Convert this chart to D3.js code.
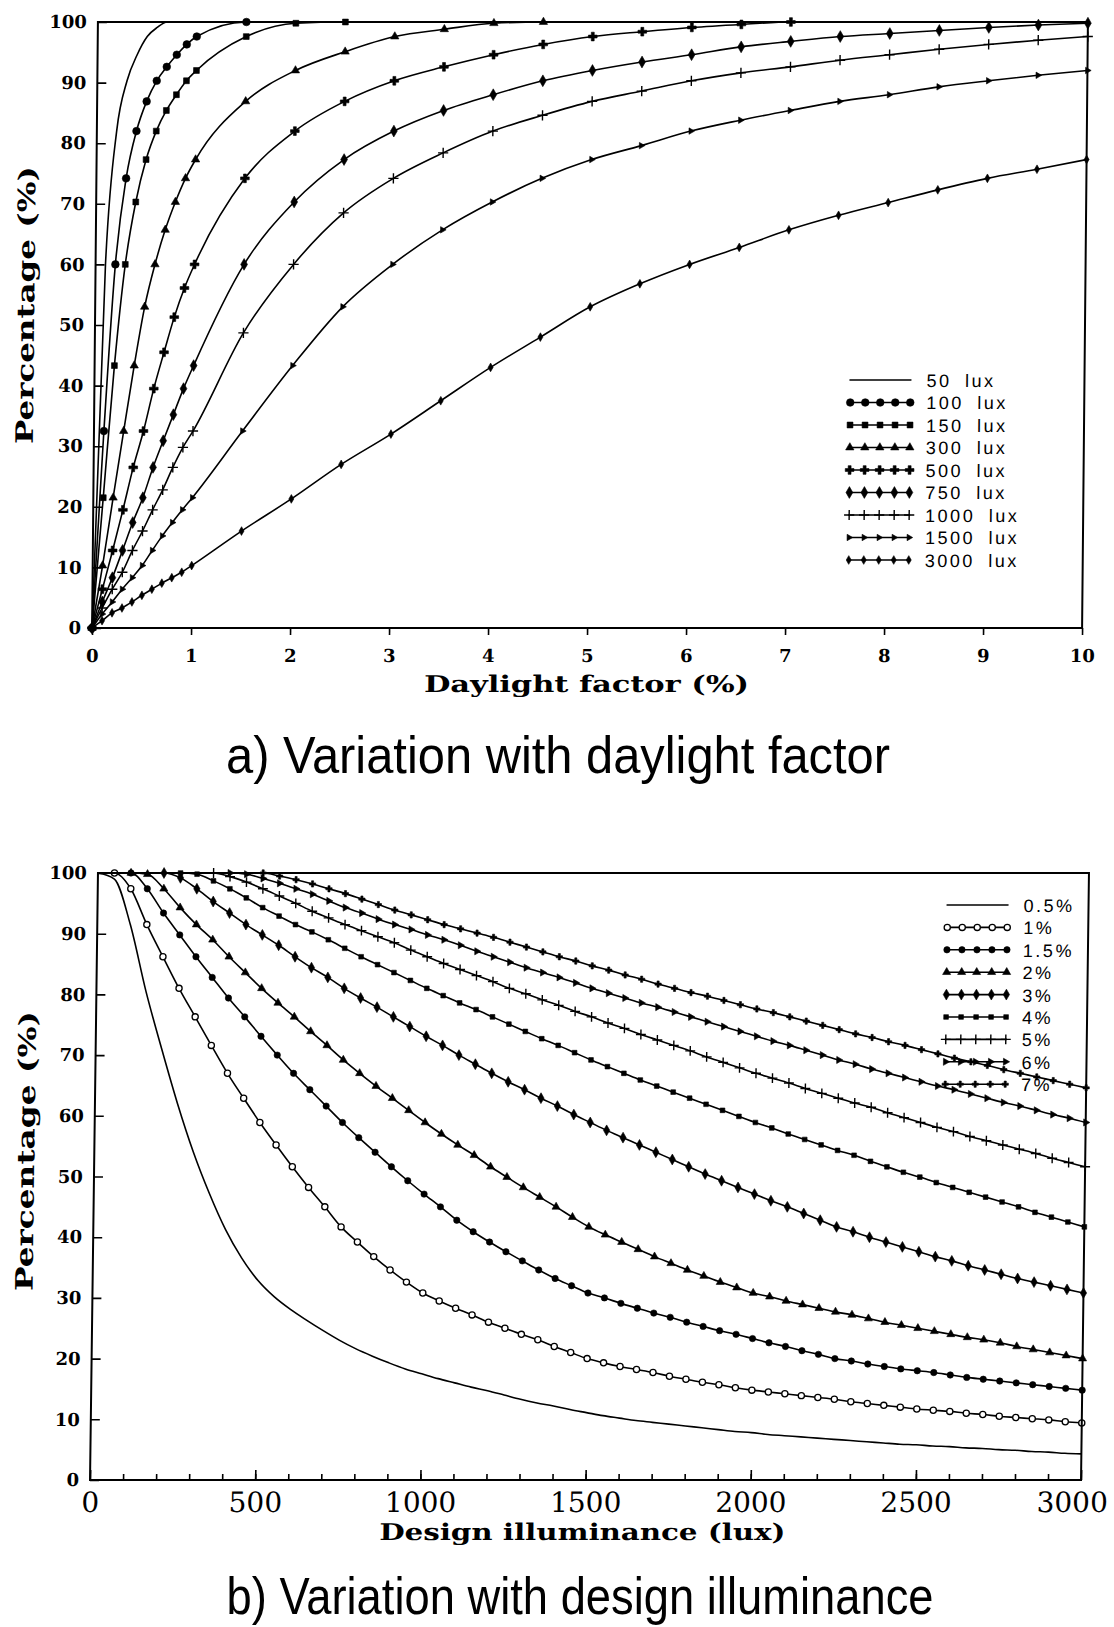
<!DOCTYPE html>
<html>
<head>
<meta charset="utf-8">
<script src="https://cdn.jsdelivr.net/npm/d3@7"></script>
<style>
  body { margin: 0; background: #fff; }
  svg { display: block; }
  text { fill: #000; }
  .tick line { stroke: #000; stroke-width: 1.6; }
</style>
</head>
<body>
<svg id="fig" width="1114" height="1627"></svg>
<script>
// ---- (a) percentage vs daylight factor, one curve per design illuminance
var dfValues = [0, 0.1, 0.2, 0.3, 0.4, 0.5, 0.6, 0.7, 0.8, 0.9, 1, 1.5, 2, 2.5, 3, 3.5, 4, 4.5, 5, 5.5, 6, 6.5, 7, 7.5, 8, 8.5, 9, 9.5, 10];
var lux50   = [0, 60, 82, 90.3, 94.6, 97.6, 99.1, 100, 100, 100, 100, 100, 100, 100, 100, 100, 100, 100, 100, 100, 100, 100, 100, 100, 100, 100, 100, 100, 100];
var lux100  = [0, 32.5, 60, 74.2, 82, 86.9, 90.3, 92.6, 94.6, 96.3, 97.6, 100, 100, 100, 100, 100, 100, 100, 100, 100, 100, 100, 100, 100, 100, 100, 100, 100, 100];
var lux150  = [0, 21.5, 43.3, 60, 70.3, 77.3, 82, 85.4, 88, 90.3, 92, 97.6, 99.8, 100, 100, 100, 100, 100, 100, 100, 100, 100, 100, 100, 100, 100, 100, 100, 100];
var lux300  = [0, 10.3, 21.5, 32.5, 43.3, 53, 60, 65.7, 70.3, 74.2, 77.3, 86.9, 92, 95.1, 97.6, 98.8, 99.8, 100, 100, 100, 100, 100, 100, 100, 100, 100, 100, 100, 100];
var lux500  = [0, 6.4, 12.8, 19.5, 26.5, 32.5, 39.5, 45.5, 51.3, 56.1, 60, 74.2, 82, 86.9, 90.3, 92.6, 94.6, 96.3, 97.6, 98.4, 99.1, 99.6, 100, 100, 100, 100, 100, 100, 100];
var lux750  = [0, 4.3, 8.3, 12.8, 17.4, 21.5, 26.5, 30.9, 35.2, 39.5, 43.3, 60, 70.3, 77.3, 82, 85.4, 88, 90.3, 92, 93.4, 94.6, 95.9, 96.8, 97.6, 98.1, 98.6, 99.1, 99.5, 99.8];
var lux1000 = [0, 3.3, 6.4, 9.2, 12.8, 16, 19.5, 22.8, 26.5, 29.8, 32.5, 48.7, 60, 68.5, 74.2, 78.4, 82, 84.6, 86.9, 88.6, 90.3, 91.6, 92.6, 93.7, 94.6, 95.5, 96.3, 97, 97.6];
var lux1500 = [0, 2.3, 4.3, 6.4, 8.3, 10.3, 12.8, 15.2, 17.4, 19.5, 21.5, 32.5, 43.3, 53, 60, 65.7, 70.3, 74.2, 77.3, 79.6, 82, 83.8, 85.4, 86.9, 88, 89.3, 90.3, 91.2, 92];
var lux3000 = [0, 1.2, 2.5, 3.3, 4.3, 5.4, 6.4, 7.4, 8.3, 9.2, 10.3, 16, 21.3, 27, 32, 37.5, 43, 48, 53, 56.8, 60, 62.8, 65.7, 68.1, 70.2, 72.3, 74.2, 75.7, 77.3];
var luxNames = ["50  lux", "100  lux", "150  lux", "300  lux", "500  lux", "750  lux", "1000  lux", "1500  lux", "3000  lux"];
var dfTicks = [0, 1, 2, 3, 4, 5, 6, 7, 8, 9, 10];

// ---- (b) percentage vs design illuminance, one curve per daylight factor
var illum = [0, 50, 100, 150, 200, 250, 300, 350, 400, 450, 500, 550, 600, 650, 700, 750, 800, 850, 900, 950, 1000,
  1050, 1100, 1150, 1200, 1250, 1300, 1350, 1400, 1450, 1500, 1550, 1600, 1650, 1700, 1750, 1800, 1850, 1900, 1950, 2000,
  2050, 2100, 2150, 2200, 2250, 2300, 2350, 2400, 2450, 2500, 2550, 2600, 2650, 2700, 2750, 2800, 2850, 2900, 2950, 3000];
var pct05 = [100, 99, 91.5, 80.5, 71, 62, 54, 47.2, 41.3, 36.6, 32.9,
  30.2, 28.1, 26.3, 24.6, 23, 21.6, 20.4, 19.3, 18.3, 17.5, 16.7, 16, 15.3, 14.7, 14, 13.3, 12.7, 12.2, 11.6, 11.1,
  10.6, 10.2, 9.8, 9.5, 9.2, 8.9, 8.6, 8.3, 8, 7.8, 7.5, 7.3, 7.1, 6.9, 6.7, 6.5, 6.3, 6.1, 5.9, 5.8,
  5.6, 5.5, 5.3, 5.2, 5, 4.9, 4.7, 4.6, 4.4, 4.3];
var pct1 = [100, 100, 97.4, 91.5, 86.2, 81, 76.3, 71.6, 67, 62.9, 58.9,
  55.2, 51.6, 48.2, 45, 41.7, 39.2, 36.8, 34.6, 32.6, 30.8, 29.5, 28.3, 27.2, 26, 25, 24, 23.1, 22, 21, 20,
  19.3, 18.7, 18.2, 17.7, 17.1, 16.6, 16.1, 15.7, 15.2, 14.8, 14.5, 14.2, 13.9, 13.6, 13.3, 12.9, 12.6, 12.3, 12, 11.7,
  11.5, 11.3, 11, 10.8, 10.5, 10.3, 10.1, 9.9, 9.6, 9.4];
var pct15 = [100, 100, 100, 97.4, 93.4, 89.8, 86.2, 82.8, 79.4, 76.3, 73.1,
  70, 67, 64.3, 61.6, 58.9, 56.4, 54, 51.6, 49.3, 47.1, 45, 42.8, 40.9, 39.2, 37.6, 36.1, 34.6, 33.2, 32, 30.8,
  30, 29.1, 28.3, 27.5, 26.8, 26, 25.3, 24.6, 24, 23.3, 22.6, 22, 21.3, 20.7, 20, 19.6, 19.1, 18.7, 18.3, 18,
  17.7, 17.3, 16.9, 16.6, 16.3, 16, 15.7, 15.4, 15.1, 14.8];
var pct2 = [100, 100, 100, 99.8, 97.4, 94.3, 91.5, 89, 86.2, 83.6, 81,
  78.6, 76.3, 73.9, 71.6, 69.2, 67, 64.9, 62.9, 60.9, 58.9, 57, 55.2, 53.5, 51.6, 49.9, 48.2, 46.6, 45, 43.3, 41.7,
  40.4, 39.2, 38, 36.8, 35.7, 34.6, 33.6, 32.6, 31.7, 30.8, 30.2, 29.5, 28.9, 28.3, 27.7, 27.2, 26.6, 26, 25.5, 25,
  24.5, 24, 23.5, 23.1, 22.6, 22, 21.5, 21, 20.5, 20];
var pct3 = [100, 100, 100, 100, 100, 99.2, 97.4, 95.3, 93.4, 91.5, 89.8,
  88.1, 86.2, 84.4, 82.8, 81, 79.4, 77.9, 76.3, 74.7, 73.1, 71.6, 70, 68.5, 67, 65.6, 64.3, 62.9, 61.6, 60.2, 58.9,
  57.6, 56.4, 55.2, 54, 52.8, 51.6, 50.4, 49.3, 48.2, 47.1, 46, 45, 43.9, 42.8, 41.7, 40.9, 40, 39.2, 38.4, 37.6,
  36.8, 36.1, 35.3, 34.6, 33.9, 33.2, 32.6, 32, 31.4, 30.8];
var pct4 = [100, 100, 100, 100, 100, 100, 99.8, 98.7, 97.4, 95.9, 94.3,
  92.9, 91.5, 90.3, 89, 87.6, 86.2, 84.9, 83.6, 82.3, 81, 79.8, 78.6, 77.5, 76.3, 75.1, 73.9, 72.7, 71.6, 70.4, 69.2,
  68.1, 67, 65.9, 64.9, 63.9, 62.9, 61.9, 60.9, 59.9, 58.9, 58, 57, 56.1, 55.2, 54.3, 53.5, 52.5, 51.6, 50.7, 49.9,
  49, 48.2, 47.4, 46.6, 45.8, 45, 44.1, 43.3, 42.5, 41.7];
var pct5 = [100, 100, 100, 100, 100, 100, 100, 100, 99.4, 98.5, 97.4,
  96.2, 95, 93.7, 92.6, 91.5, 90.5, 89.5, 88.5, 87.3, 86.2, 85.1, 84.1, 83.1, 82.1, 81, 80.1, 79.1, 78.2, 77.2, 76.3,
  75.3, 74.4, 73.4, 72.5, 71.6, 70.7, 69.7, 68.8, 67.9, 67, 66.2, 65.4, 64.5, 63.7, 62.9, 62.1, 61.4, 60.5, 59.7, 58.9,
  58.1, 57.4, 56.6, 55.9, 55.2, 54.5, 53.8, 53, 52.3, 51.6];
var pct6 = [100, 100, 100, 100, 100, 100, 100, 100, 100, 99.8, 99.1,
  98.3, 97.4, 96.5, 95.4, 94.3, 93.4, 92.4, 91.5, 90.7, 89.8, 89, 88.1, 87.1, 86.2, 85.3, 84.4, 83.6, 82.8, 81.9, 81,
  80.2, 79.4, 78.6, 77.9, 77.1, 76.3, 75.5, 74.7, 73.9, 73.1, 72.3, 71.6, 70.8, 70, 69.2, 68.5, 67.7, 67, 66.3, 65.6,
  64.9, 64.3, 63.6, 62.9, 62.2, 61.6, 60.9, 60.2, 59.6, 58.9];
var pct7 = [100, 100, 100, 100, 100, 100, 100, 100, 100, 100, 100,
  99.5, 98.9, 98.2, 97.4, 96.6, 95.7, 94.8, 93.9, 93.1, 92.3, 91.5, 90.8, 90.1, 89.4, 88.6, 87.8, 87, 86.2, 85.5, 84.7,
  84, 83.2, 82.5, 81.7, 81, 80.3, 79.7, 79, 78.3, 77.6, 77, 76.3, 75.6, 74.9, 74.2, 73.5, 72.9, 72.2, 71.6, 70.9,
  70.2, 69.5, 68.9, 68.3, 67.6, 67, 66.4, 65.8, 65.2, 64.6];
var dfNames = ["0.5%", "1%", "1.5%", "2%", "3%", "4%", "5%", "6%", "7%"];
var illumTicks = [0, 500, 1000, 1500, 2000, 2500, 3000];
var pctTicks = [0, 10, 20, 30, 40, 50, 60, 70, 80, 90, 100];

// marker look for each curve
var topMarks = [
  null,
  {type: d3.symbolCircle, size: 46, fill: true},
  {type: d3.symbolSquare, size: 34, fill: true},
  {type: d3.symbolTriangle, size: 30, fill: true},
  {type: d3.symbolCross, size: 42, fill: true},
  {type: d3.symbolDiamond, size: 40, fill: true},
  {type: d3.symbolPlus, size: 36, fill: false},
  {type: d3.symbolTriangle, size: 18, fill: true, rot: 90},
  {type: d3.symbolDiamond, size: 22, fill: true}
];
var botMarks = [
  null,
  {type: d3.symbolCircle, size: 30, fill: false, open: true},
  {type: d3.symbolCircle, size: 32, fill: true},
  {type: d3.symbolTriangle, size: 28, fill: true},
  {type: d3.symbolDiamond, size: 34, fill: true},
  {type: d3.symbolSquare, size: 22, fill: true},
  {type: d3.symbolPlus, size: 34, fill: false},
  {type: d3.symbolTriangle, size: 22, fill: true, rot: 90},
  {type: d3.symbolCross, size: 22, fill: true}
];

var svg = d3.select("#fig");
var serif = "'DejaVu Serif', 'Liberation Serif', serif";
var sans = "'Liberation Sans', 'DejaVu Sans', sans-serif";
var narrow = "'Liberation Sans Narrow', 'Liberation Sans', sans-serif";

function drawMark(g, m, x, y) {
  if (!m) return;
  var p = g.append("path")
    .attr("d", d3.symbol().type(m.type).size(m.size)())
    .attr("transform", "translate(" + x + "," + y + ")" + (m.rot ? " rotate(" + m.rot + ")" : ""));
  if (m.open) p.attr("fill", "#fff").attr("stroke", "#000").attr("stroke-width", 1.3);
  else if (m.fill) p.attr("fill", "#000").attr("stroke", "#000").attr("stroke-width", 0.6);
  else p.attr("fill", "none").attr("stroke", "#000").attr("stroke-width", 1.4);
}

// skip markers along the flat 100 % run, keep the one at its edge
function keepMark(vals, i) {
  if (vals[i] < 100) return true;
  var prev = i > 0 ? vals[i - 1] : 100, next = i < vals.length - 1 ? vals[i + 1] : 100;
  return prev < 100 || next < 100;
}

function chart(opt) {
  // scanned figure leans slightly, so each panel gets a small skew
  var g = svg.append("g")
    .attr("transform", "translate(0," + opt.cy + ") skewX(" + opt.skew + ") translate(0," + (-opt.cy) + ")");
  var x = opt.x, y = opt.y;

  // curves
  var line = d3.line().curve(d3.curveMonotoneX)
    .x(function(d) { return x(d[0]); })
    .y(function(d) { return y(d[1]); });
  opt.series.forEach(function(vals, k) {
    var pts = opt.xs.map(function(v, i) { return [v, vals[i]]; });
    g.append("path").attr("d", line(pts))
      .attr("fill", "none").attr("stroke", "#000").attr("stroke-width", 1.6);
  });
  opt.series.forEach(function(vals, k) {
    var m = opt.marks[k];
    if (!m) return;
    opt.xs.forEach(function(v, i) {
      if (keepMark(vals, i)) drawMark(g, m, x(v), y(vals[i]));
    });
  });

  // frame
  g.append("rect")
    .attr("x", x.range()[0]).attr("y", y.range()[1])
    .attr("width", x.range()[1] - x.range()[0]).attr("height", y.range()[0] - y.range()[1])
    .attr("fill", "none").attr("stroke", "#000").attr("stroke-width", 2);

  // y axis, ticks inside
  var ya = g.append("g").attr("transform", "translate(" + x.range()[0] + ",0)")
    .call(d3.axisLeft(y).tickValues(pctTicks).tickSize(-9).tickPadding(11));
  ya.select(".domain").remove();
  ya.selectAll("text").attr("font-family", serif).attr("font-weight", "bold").attr("font-size", 18);

  opt.xAxis(g, x, y);

  // legend
  opt.names.forEach(function(name, k) {
    var ly = opt.legY + k * opt.legStep;
    g.append("line").attr("x1", opt.legX).attr("x2", opt.legX + 62)
      .attr("y1", ly).attr("y2", ly).attr("stroke", "#000").attr("stroke-width", 1.6);
    for (var j = 0; j < 5; j++) drawMark(g, opt.marks[k], opt.legX + 1 + j * 15, ly);
    g.append("text").attr("x", opt.legX + 77).attr("y", ly + 7)
      .attr("font-family", sans).attr("font-size", 18)
      .attr("letter-spacing", 2.5).attr("word-spacing", 6)
      .text(name);
  });

  // axis titles
  g.append("text")
    .attr("transform", "translate(" + opt.yTitle[0] + "," + opt.yTitle[1] + ") rotate(-90)")
    .attr("text-anchor", "middle").attr("font-family", serif).attr("font-weight", "bold")
    .attr("font-size", 24).attr("textLength", opt.yTitle[2]).attr("lengthAdjust", "spacingAndGlyphs")
    .text("Percentage (%)");
  g.append("text")
    .attr("x", opt.xTitle[0]).attr("y", opt.xTitle[1])
    .attr("text-anchor", "middle").attr("font-family", serif).attr("font-weight", "bold")
    .attr("font-size", 23).attr("textLength", opt.xTitle[2]).attr("lengthAdjust", "spacingAndGlyphs")
    .text(opt.xTitleText);
}

// panel (a)
chart({
  cy: 325, skew: -0.55,
  x: d3.scaleLinear().domain([0, 10]).range([95, 1085]),
  y: d3.scaleLinear().domain([0, 100]).range([628, 22]),
  xs: dfValues,
  series: [lux50, lux100, lux150, lux300, lux500, lux750, lux1000, lux1500, lux3000],
  marks: topMarks,
  names: luxNames,
  legX: 850, legY: 380, legStep: 22.5,
  yTitle: [34, 305, 278],
  xTitle: [590, 692, 325], xTitleText: "Daylight factor (%)",
  xAxis: function(g, x, y) {
    var xa = g.append("g").attr("transform", "translate(0," + y.range()[0] + ")")
      .call(d3.axisBottom(x).tickValues(dfTicks).tickSize(7).tickPadding(14));
    xa.select(".domain").remove();
    xa.selectAll("text").attr("font-family", serif).attr("font-weight", "bold").attr("font-size", 18);
  }
});

// panel (b)
chart({
  cy: 1176, skew: -0.75,
  x: d3.scaleLinear().domain([0, 3000]).range([94, 1085]),
  y: d3.scaleLinear().domain([0, 100]).range([1480, 873]),
  xs: illum,
  series: [pct05, pct1, pct15, pct2, pct3, pct4, pct5, pct6, pct7],
  marks: botMarks,
  names: dfNames,
  legX: 943, legY: 905, legStep: 22.4,
  yTitle: [34, 1151, 280],
  xTitle: [587, 1540, 406], xTitleText: "Design illuminance (lux)",
  xAxis: function(g, x, y) {
    var minor = g.append("g").attr("transform", "translate(0," + y.range()[0] + ")")
      .call(d3.axisBottom(x).tickValues(d3.range(100, 3000, 100)).tickSize(-6).tickFormat(""));
    minor.select(".domain").remove();
    var xa = g.append("g").attr("transform", "translate(0," + y.range()[0] + ")")
      .call(d3.axisBottom(x).tickValues(illumTicks).tickSize(-10).tickPadding(12).tickFormat(d3.format("d")));
    xa.select(".domain").remove();
    xa.selectAll("text").attr("font-family", serif).attr("font-size", 28)
      .attr("dx", function(d) { return d === 3000 ? -9 : 0; });
  }
});

// captions
svg.append("text").attr("x", 558).attr("y", 773).attr("text-anchor", "middle")
  .attr("font-family", narrow).attr("font-size", 52)
  .attr("textLength", 664).attr("lengthAdjust", "spacingAndGlyphs")
  .text("a) Variation with daylight factor");
svg.append("text").attr("x", 580).attr("y", 1614).attr("text-anchor", "middle")
  .attr("font-family", narrow).attr("font-size", 52)
  .attr("textLength", 707).attr("lengthAdjust", "spacingAndGlyphs")
  .text("b) Variation with design illuminance");
</script>
</body>
</html>
